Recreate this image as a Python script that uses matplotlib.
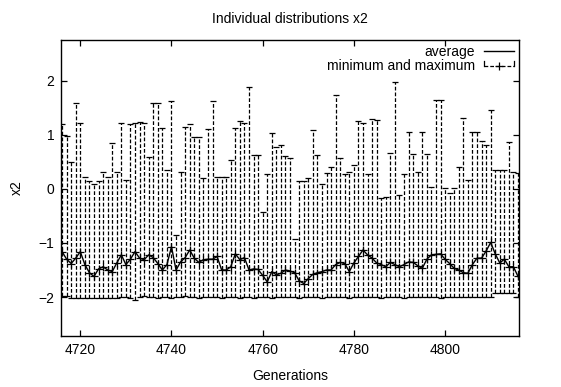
import matplotlib
matplotlib.use("Agg")
import matplotlib.pyplot as plt
from matplotlib.lines import Line2D
from matplotlib.legend_handler import HandlerBase

plt.rcParams["font.family"] = ["Liberation Sans", "DejaVu Sans"]

# one sample per generation, 4716 .. 4816
generations = list(range(4716, 4817))

x2_max = [
    1.20, 0.98, 0.49, 1.60, 1.23, 0.23, 0.14, 0.09, 0.14, 0.32,
    0.23, 0.86, 0.32, 1.22, 0.16, 1.21, 1.23, 1.24, 1.22, 0.59,
    1.60, 1.60, 1.12, 0.35, 1.63, -0.85, 0.32, 1.15, 1.20, 0.96,
    0.97, 0.21, 1.11, 1.63, 0.23, 0.23, 0.23, 0.54, 1.12, 1.26,
    1.22, 1.89, 0.63, 0.63, -0.42, 0.28, 1.03, 0.78, 0.81, 0.61,
    0.57, -0.93, 0.15, 0.15, 0.20, 1.09, 0.63, 0.09, 0.30, 0.41,
    1.74, 0.57, 0.28, 0.32, 0.44, 1.25, 1.22, 0.28, 1.29, 1.28,
    -0.17, -0.15, 0.66, 1.98, -0.11, 0.28, 1.05, 0.65, 0.32, 1.05,
    0.64, 0.04, 1.65, 1.65, 0.01, -0.08, 0.01, 0.41, 1.32, 0.17,
    1.06, 1.06, 0.88, 0.81, 1.47, 0.35, 0.36, 0.36, 0.87, 0.32,
    0.30,
]

x2_avg = [
    -1.16, -1.30, -1.38, -1.28, -1.16, -1.40, -1.55, -1.62, -1.48, -1.44,
    -1.50, -1.53, -1.37, -1.22, -1.40, -1.30, -1.16, -1.28, -1.31, -1.22,
    -1.27, -1.38, -1.50, -1.40, -1.07, -1.50, -1.35, -1.27, -1.13, -1.28,
    -1.36, -1.31, -1.30, -1.30, -1.25, -1.50, -1.50, -1.44, -1.20, -1.31,
    -1.27, -1.50, -1.48, -1.49, -1.60, -1.72, -1.53, -1.59, -1.56, -1.50,
    -1.52, -1.55, -1.70, -1.75, -1.66, -1.58, -1.55, -1.53, -1.50, -1.50,
    -1.40, -1.36, -1.38, -1.53, -1.37, -1.25, -1.13, -1.22, -1.28, -1.37,
    -1.40, -1.44, -1.36, -1.40, -1.44, -1.40, -1.35, -1.36, -1.42, -1.47,
    -1.30, -1.22, -1.21, -1.20, -1.30, -1.38, -1.47, -1.50, -1.55, -1.56,
    -1.40, -1.28, -1.28, -1.15, -0.99, -1.20, -1.37, -1.30, -1.44, -1.44,
    -1.62,
]

x2_min = [
    -1.99, -1.99, -2.01, -2.01, -2.02, -2.02, -2.02, -2.01, -2.02, -2.02,
    -2.01, -2.02, -2.01, -2.00, -2.00, -2.01, -2.05, -2.00, -1.99, -2.00,
    -2.00, -2.01, -2.00, -2.00, -2.01, -2.00, -2.00, -1.99, -2.00, -2.00,
    -2.01, -2.00, -2.00, -2.00, -2.00, -2.01, -2.00, -2.00, -2.00, -2.01,
    -2.00, -2.00, -2.01, -2.00, -2.00, -2.00, -2.01, -2.00, -2.00, -2.00,
    -2.00, -2.00, -2.01, -2.00, -2.00, -2.00, -2.00, -2.01, -2.00, -2.00,
    -2.00, -2.00, -2.00, -2.01, -2.00, -2.00, -2.00, -2.00, -2.00, -2.00,
    -2.01, -2.00, -2.00, -2.00, -2.00, -2.01, -2.00, -2.00, -2.00, -2.00,
    -2.00, -2.00, -2.00, -2.01, -2.00, -2.00, -2.00, -2.00, -2.00, -2.00,
    -2.00, -2.00, -2.00, -2.00, -2.00, -1.93, -1.93, -1.93, -1.93, -1.93,
    -2.00,
]

x_ticks = [4720, 4740, 4760, 4780, 4800]
y_ticks = [-2, -1, 0, 1, 2]

DASH = (0, (3, 1.6))
FS = 10


class RangeHandler(HandlerBase):
    """Legend sample: dashed line with end ticks and a cross in the middle."""

    def create_artists(self, legend, orig_handle, xdescent, ydescent,
                       width, height, fontsize, trans):
        x0, x1 = -xdescent, width - xdescent
        y = (height - ydescent) / 2
        parts = [
            Line2D([x0, x1], [y, y], color="k", lw=0.9, ls=DASH),
            Line2D([x0, x0], [y, y + 3], color="k", lw=0.9),
            Line2D([x1, x1], [y, y + 3], color="k", lw=0.9),
            Line2D([(x0 + x1) / 2], [y], color="k", marker="+", ms=6,
                   mew=0.9, ls="none"),
        ]
        for p in parts:
            p.set_transform(trans)
        return parts


fig = plt.figure(figsize=(5.61, 3.87), dpi=100)
ax = fig.add_axes([0.109, 0.132, 0.816, 0.765])

lower = [a - m for a, m in zip(x2_avg, x2_min)]
upper = [m - a for a, m in zip(x2_avg, x2_max)]
eb = ax.errorbar(generations, x2_avg, yerr=[lower, upper], fmt="none",
                 ecolor="k", elinewidth=0.9, capsize=2.0, capthick=0.9)
eb[2][0].set_linestyle(DASH)
ax.plot(generations, x2_avg, "+", color="k", ms=6, mew=0.9)
avg_line, = ax.plot(generations, x2_avg, "-", color="k", lw=1.0)

range_proxy = Line2D([], [], color="k")
ax.legend([avg_line, range_proxy], ["average", "minimum and maximum"],
          handler_map={range_proxy: RangeHandler()},
          loc="upper right", frameon=False, markerfirst=False,
          fontsize=FS, handlelength=2.2, handletextpad=0.6,
          borderaxespad=0.15, borderpad=0.2, labelspacing=0.05)

ax.set_xlim(4715.8, 4816.2)
ax.set_ylim(-2.72, 2.76)
ax.set_xticks(x_ticks)
ax.set_yticks(y_ticks)
ax.tick_params(direction="in", top=True, right=True, length=4,
               width=0.9, labelsize=FS, pad=5)
for s in ax.spines.values():
    s.set_linewidth(1.0)

ax.set_title("Individual distributions x2", fontsize=FS, pad=12)
ax.set_xlabel("Generations", fontsize=FS, labelpad=9)
ax.set_ylabel("x2", fontsize=FS, labelpad=10)

fig.savefig("out.png", dpi=100)
